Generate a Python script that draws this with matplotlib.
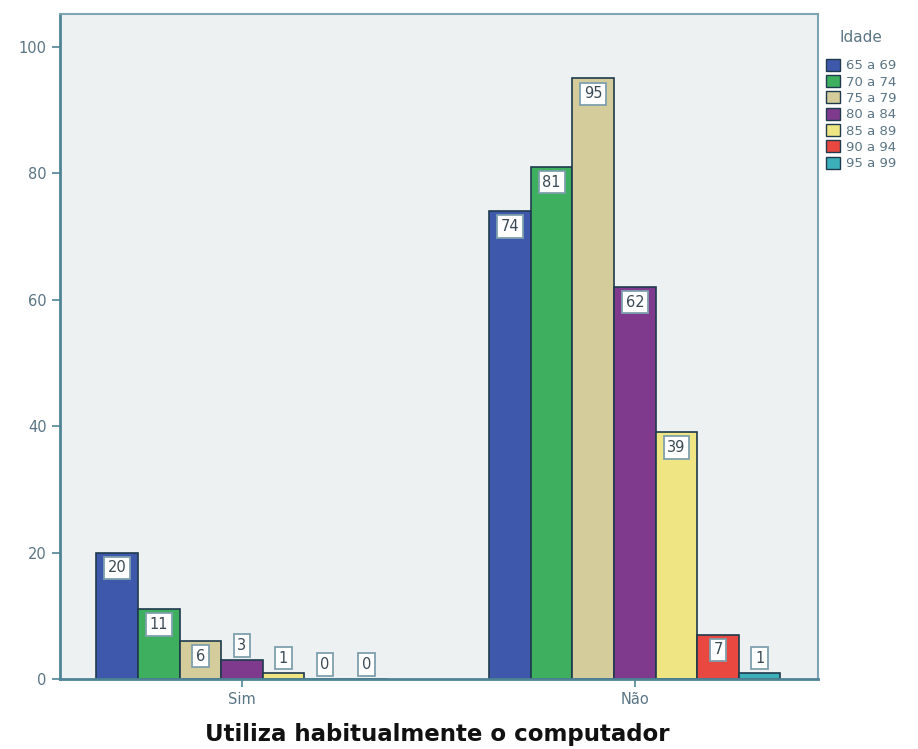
import matplotlib
matplotlib.use("Agg")
import matplotlib.pyplot as plt
import numpy as np
from matplotlib.patches import Patch

groups = ["Sim", "Não"]
age_labels = ["65 a 69", "70 a 74", "75 a 79", "80 a 84", "85 a 89", "90 a 94", "95 a 99"]
sim_values = [20, 11, 6, 3, 1, 0, 0]
nao_values = [74, 81, 95, 62, 39, 7, 1]
colors = ["#3E59AB", "#3DAF5E", "#D4CC9A", "#7F3A8E", "#EFE683", "#E8483F", "#3CB0B8"]
yticks = [0, 20, 40, 60, 80, 100]

fig = plt.figure(figsize=(9.18, 7.49), dpi=100)
ax = fig.add_axes([60/918, 70/749, 758/918, 665/749])
ax.set_facecolor("#EEF1F2")

axis_col = "#4F8496"
w = 41.6/393
data = np.array([sim_values, nao_values])
xg = np.arange(len(groups))
for i in range(len(age_labels)):
    xs = xg + (i-3)*w
    vals = data[:, i]
    ax.bar(xs, vals, width=w, color=colors[i], edgecolor="#1E3A4C", linewidth=1.2, zorder=2)
    for x, v in zip(xs, vals):
        yl = v - 2.4 if v >= 4.6 else v + 2.3
        ax.text(x, yl, str(v), ha="center", va="center", fontsize=10.5, color="#3A4A55",
                bbox=dict(boxstyle="square,pad=0.25", fc="white", ec="#7FA0AE", lw=1.3), zorder=3)

ax.set_xlim(-0.463, 1.466)
ax.set_ylim(0, 105.2)
ax.set_yticks(yticks)
ax.set_yticklabels([str(t) for t in yticks])
ax.set_xticks(xg)
ax.set_xticklabels(groups)
ax.tick_params(axis="both", colors=axis_col, labelcolor="#5A7585", labelsize=10.5, length=6, width=1.2, direction="out")
for s in ["left", "bottom"]:
    ax.spines[s].set_color(axis_col)
    ax.spines[s].set_linewidth(2)
for s in ["top", "right"]:
    ax.spines[s].set_color("#7EA5B3")
    ax.spines[s].set_linewidth(1.5)

fig.text(437/918, 1 - 735/749, "Utiliza habitualmente o computador", ha="center", va="center",
         fontsize=16.5, fontweight="bold", color="#111111")

handles = [Patch(facecolor=c, edgecolor="#1E3A4C", label=l) for c, l in zip(colors, age_labels)]
leg = fig.legend(handles=handles, title="Idade", loc="upper left", bbox_to_anchor=(818/918, 1 - 22/749),
                 frameon=False, fontsize=9.5, title_fontsize=11, handlelength=1.1, handleheight=1.0,
                 handletextpad=0.4, labelspacing=0.22, borderaxespad=0.2)
leg._legend_box.sep = 10
for t in leg.get_texts():
    t.set_color("#5A7585")
leg.get_title().set_color("#5A7585")

fig.savefig("out.png", dpi=100)
